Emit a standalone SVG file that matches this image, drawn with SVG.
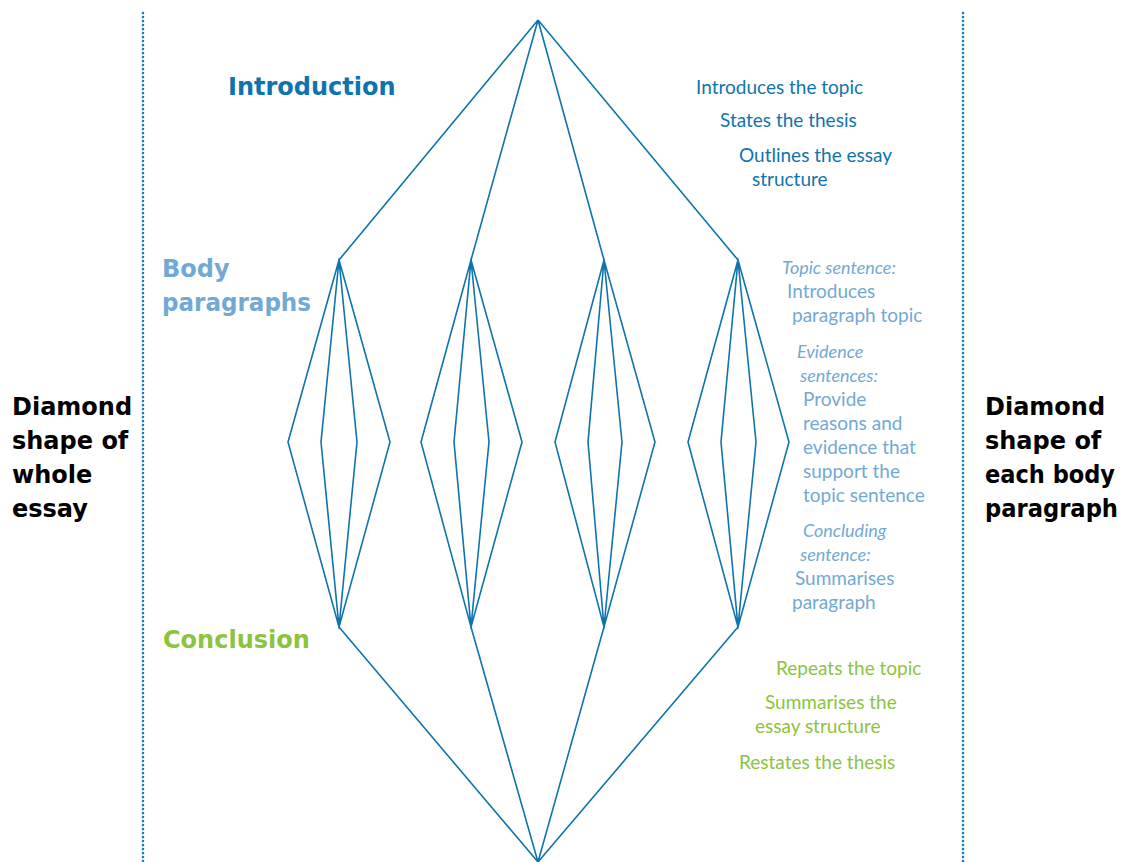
<svg xmlns="http://www.w3.org/2000/svg" width="1137" height="862" viewBox="0 0 1137 862">
<style>
.ln{stroke:#0f74ad;stroke-width:1.6;fill:none;stroke-linejoin:miter}
.dot{stroke:#1a7fbf;stroke-width:2.6;stroke-dasharray:0.1 3.9;stroke-linecap:round;fill:none}
.h{font-family:"DejaVu Sans",Lato,sans-serif;font-weight:bold;font-size:24px}
.t{font-family:Lato,"Open Sans",sans-serif;font-size:19px}
.i{font-family:Lato,"Open Sans",sans-serif;font-size:18px;font-style:italic}
.db{fill:#0f74ad}.lb{fill:#72a9d4}.gr{fill:#8cc43f}.bk{fill:#000}
</style>
<rect width="1137" height="862" fill="#fff"/>
<g id="dividers">
<line class="dot" x1="143" y1="13" x2="143" y2="862"/>
<line class="dot" x1="963" y1="13" x2="963" y2="862"/>
</g>
<g id="connectors">
<path class="ln" d="M538,20 L339,260 M538,20 L471,260 M538,20 L604,260 M538,20 L738,260"/>
<path class="ln" d="M339,627 L538,862 M471,627 L538,862 M604,627 L538,862 M738,627 L538,862"/>
</g>
<g id="para1"><path class="ln" d="M339,260 L288,442 L339,627 L390,442 Z M339,260 L321,442 L339,627 L357,442 Z"/></g>
<g id="para2"><path class="ln" d="M471,260 L421,442 L471,627 L522,442 Z M471,260 L454,442 L471,627 L489,442 Z"/></g>
<g id="para3"><path class="ln" d="M604,260 L555,442 L604,627 L655,442 Z M604,260 L588,442 L604,627 L622,442 Z"/></g>
<g id="para4"><path class="ln" d="M738,260 L688,442 L738,627 L789,442 Z M738,260 L721,442 L738,627 L756,442 Z"/></g>
<g id="labels-left">
<text class="h db" x="228" y="95">Introduction</text>
<text class="h lb" x="162" y="277">Body</text>
<text class="h lb" x="162" y="311" textLength="149" lengthAdjust="spacingAndGlyphs">paragraphs</text>
<text class="h gr" x="163" y="648">Conclusion</text>
</g>
<g id="whole-essay">
<text class="h bk" x="12" y="415">Diamond</text>
<text class="h bk" x="12" y="449">shape of</text>
<text class="h bk" x="12" y="483">whole</text>
<text class="h bk" x="12" y="517">essay</text>
</g>
<g id="each-paragraph">
<text class="h bk" x="985" y="415">Diamond</text>
<text class="h bk" x="985" y="449">shape of</text>
<text class="h bk" x="985" y="483" textLength="130" lengthAdjust="spacingAndGlyphs">each body</text>
<text class="h bk" x="985" y="517" textLength="133" lengthAdjust="spacingAndGlyphs">paragraph</text>
</g>
<g id="intro-notes">
<text class="t db" x="696" y="94">Introduces the topic</text>
<text class="t db" x="720" y="127">States the thesis</text>
<text class="t db" x="739" y="162">Outlines the essay</text>
<text class="t db" x="752" y="186">structure</text>
</g>
<g id="body-notes">
<text class="i lb" x="782" y="274">Topic sentence:</text>
<text class="t lb" x="787" y="298">Introduces</text>
<text class="t lb" x="792" y="322">paragraph topic</text>
<text class="i lb" x="797" y="358">Evidence</text>
<text class="i lb" x="800" y="382">sentences:</text>
<text class="t lb" x="803" y="406">Provide</text>
<text class="t lb" x="803" y="430">reasons and</text>
<text class="t lb" x="803" y="454">evidence that</text>
<text class="t lb" x="803" y="478">support the</text>
<text class="t lb" x="803" y="502">topic sentence</text>
<text class="i lb" x="803" y="537">Concluding</text>
<text class="i lb" x="800" y="561">sentence:</text>
<text class="t lb" x="795" y="585">Summarises</text>
<text class="t lb" x="792" y="609">paragraph</text>
</g>
<g id="conclusion-notes">
<text class="t gr" x="776" y="675">Repeats the topic</text>
<text class="t gr" x="765" y="709">Summarises the</text>
<text class="t gr" x="755" y="733">essay structure</text>
<text class="t gr" x="739" y="769">Restates the thesis</text>
</g>
</svg>
